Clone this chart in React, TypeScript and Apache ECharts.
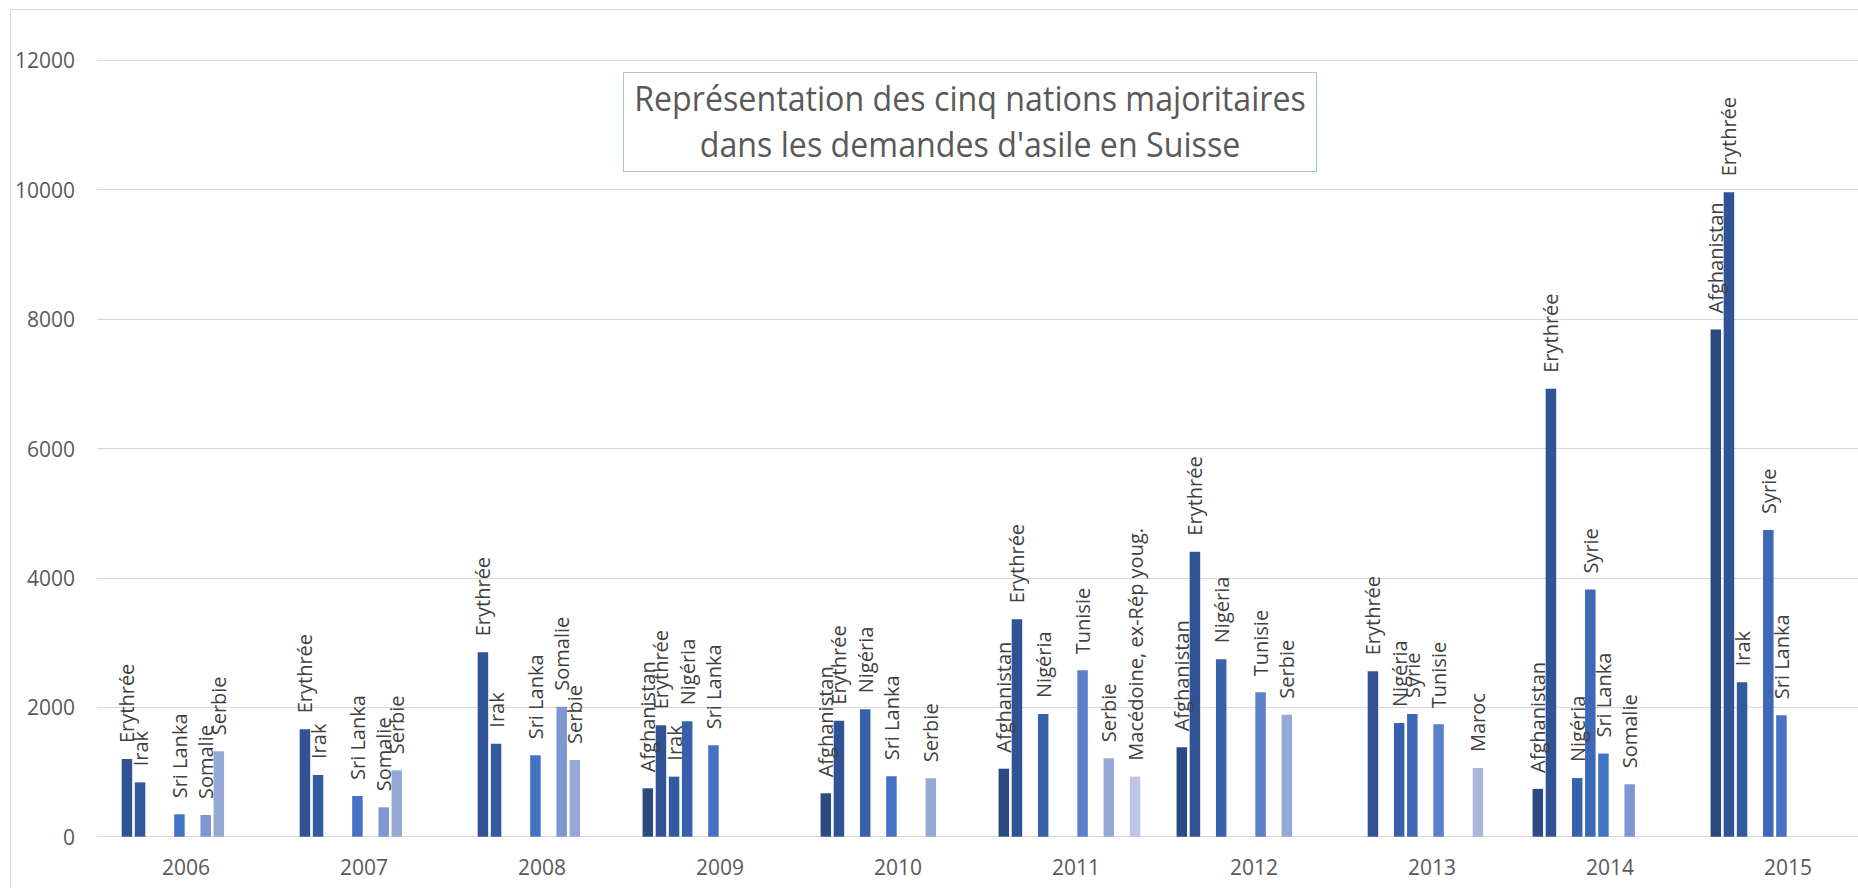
import React, { useEffect, useRef } from "react";
import * as echarts from "echarts";

const categories = ["2006", "2007", "2008", "2009", "2010", "2011", "2012", "2013", "2014", "2015"];
const yTicks = [0, 2000, 4000, 6000, 8000, 10000, 12000];

const afghanistan = [null, null, null, 748, 671, 1051, 1382, null, 739, 7840];
const erythree = [1201, 1660, 2851, 1722, 1793, 3361, 4406, 2557, 6923, 9960];
const irak = [840, 954, 1438, 928, null, null, null, null, null, 2387];
const nigeria = [null, null, null, 1784, 1970, 1897, 2743, 1758, 906, null];
const syrie = [null, null, null, null, null, null, null, 1897, 3819, 4742];
const sriLanka = [346, 629, 1258, 1413, 934, null, null, null, 1285, 1877];
const tunisie = [null, null, null, null, null, 2573, 2232, 1738, null, null];
const somalie = [335, 454, 2010, null, null, null, null, null, 810, null];
const serbie = [1320, 1026, 1186, null, 903, 1212, 1886, null, null, null];
const maroc = [null, null, null, null, null, null, null, 1062, null, null];
const macedoine = [null, null, null, null, null, 928, null, null, null, null];
const emptySlot = [null, null, null, null, null, null, null, null, null, null];

const seriesNames = [
  "Afghanistan", "Erythrée", "Irak", "Nigéria", "Syrie", "Sri Lanka",
  "Tunisie", "Somalie", "Serbie", "Maroc", "Macédoine, ex-Rép youg.", "",
];
const seriesData = [
  afghanistan, erythree, irak, nigeria, syrie, sriLanka,
  tunisie, somalie, serbie, maroc, macedoine, emptySlot,
];
const seriesColors = [
  "#2a4a80", "#2f5394", "#335a9f", "#3861ab", "#3c68b6", "#4472c4",
  "#5b80c9", "#7e97d0", "#96a8d6", "#aab6dd", "#bcc5e6", "#cdd4ec",
];

const titleLines = [
  "Représentation des cinq nations majoritaires",
  "dans les demandes d'asile en Suisse",
];

const FONT = "'Open Sans', 'Noto Sans', sans-serif";

export default function App() {
  const ref = useRef<HTMLDivElement>(null);

  useEffect(() => {
    if (!ref.current) return;
    const chart = echarts.init(ref.current, undefined, { renderer: "svg" });
    chart.setOption({
      animation: false,
      backgroundColor: "#ffffff",
      grid: { left: 97, right: 23, top: 60.3, bottom: 51.3, containLabel: false },
      xAxis: {
        type: "category",
        data: categories,
        axisLine: { show: true, lineStyle: { color: "#d9d9d9", width: 1 } },
        axisTick: { show: false },
        axisLabel: { color: "#595959", fontFamily: FONT, fontSize: 21, margin: 20 },
      },
      yAxis: {
        type: "value",
        min: yTicks[0],
        max: yTicks[yTicks.length - 1],
        interval: 2000,
        axisLine: { show: false },
        axisTick: { show: false },
        splitLine: { show: true, lineStyle: { color: "#d9d9d9", width: 1 } },
        axisLabel: {
          color: "#595959",
          fontFamily: FONT,
          fontSize: 21,
          margin: 22,
          formatter: (v: number) => String(v),
        },
      },
      series: seriesNames.map((name, i) => ({
        name,
        type: "bar",
        data: seriesData[i],
        barWidth: 10.5,
        barGap: "25%",
        itemStyle: { color: seriesColors[i] },
        label: {
          show: name !== "",
          position: "top",
          distance: 16,
          rotate: 90,
          align: "left",
          verticalAlign: "middle",
          formatter: "{a}",
          fontFamily: FONT,
          fontSize: 20,
          color: "#404040",
        },
      })),
      graphic: [
        {
          type: "rect",
          silent: true,
          shape: { x: 10.5, y: 9.5, width: 2400, height: 2000 },
          style: { fill: "none", stroke: "#d9d9d9", lineWidth: 1 },
        },
        {
          type: "rect",
          silent: true,
          shape: { x: 623.5, y: 72.5, width: 693, height: 99 },
          style: { fill: "#ffffff", stroke: "#9dc3e6", lineWidth: 1 },
        },
        {
          type: "text",
          silent: true,
          x: 970,
          y: 97,
          scaleX: 0.92,
          style: {
            text: titleLines[0],
            fill: "#595959",
            font: `35px ${FONT}`,
            align: "center",
            verticalAlign: "middle",
          },
        },
        {
          type: "text",
          silent: true,
          x: 970,
          y: 143.5,
          scaleX: 0.92,
          style: {
            text: titleLines[1],
            fill: "#595959",
            font: `35px ${FONT}`,
            align: "center",
            verticalAlign: "middle",
          },
        },
      ],
    });
    return () => chart.dispose();
  }, []);

  return (
    <div
      style={{
        position: "fixed",
        left: 0,
        top: 0,
        width: 1858,
        height: 888,
        overflow: "hidden",
        background: "#ffffff",
      }}
    >
      <div ref={ref} style={{ width: 1900, height: 888 }} />
    </div>
  );
}
